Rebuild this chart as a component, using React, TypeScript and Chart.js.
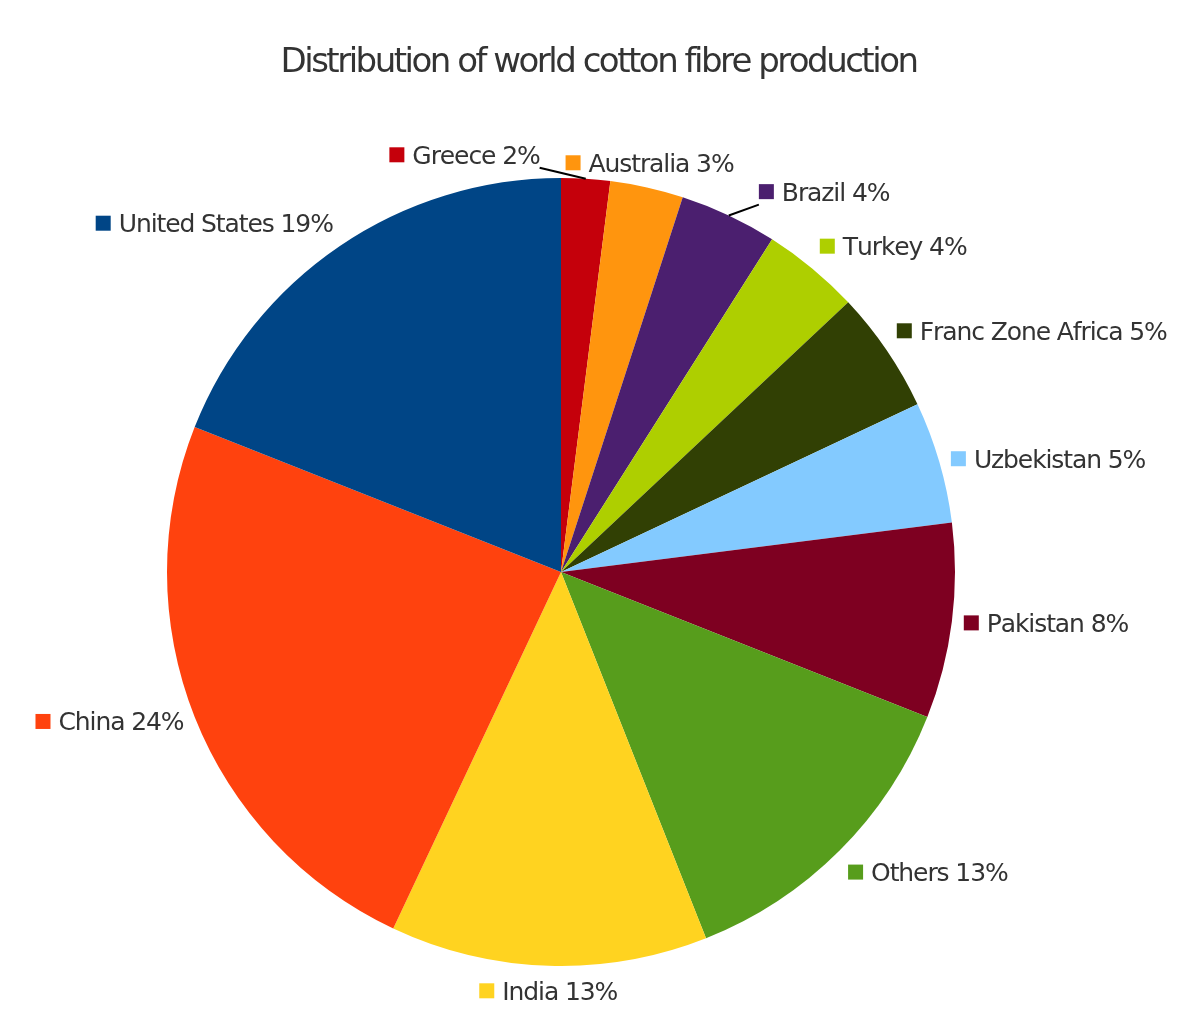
import React, { useEffect, useRef } from "react";
import { Chart, registerables } from "chart.js";

Chart.register(...registerables);

// ---- data (clockwise from 12 o'clock) ----
const TITLE = "Distribution of world cotton fibre production";
const categories = [
  "Greece",
  "Australia",
  "Brazil",
  "Turkey",
  "Franc Zone Africa",
  "Uzbekistan",
  "Pakistan",
  "Others",
  "India",
  "China",
  "United States",
];
const shares = [2, 3, 4, 4, 5, 5, 8, 13, 13, 24, 19];
const colors = [
  "#C5000B",
  "#FF950E",
  "#4B1F6F",
  "#AECF00",
  "#314004",
  "#83CAFF",
  "#7E0021",
  "#579D1C",
  "#FFD320",
  "#FF420E",
  "#004586",
];

// label nudges (crowded labels moved away, with a leader line)
const labelNudges: [number, number][] = [
  [-122, 1],
  [0, 0],
  [25, 0],
  [0, 0],
  [0, 0],
  [0, 0],
  [0, 0],
  [0, 0],
  [0, 0],
  [0, 0],
  [0, 0],
];

const FONT = '"DejaVu Sans", sans-serif';
const TEXT_COLOR = "#333333";
const TITLE_SIZE = 34;
const TITLE_SPACING = "-2.5px";
const LABEL_SIZE = 25;
const LABEL_SPACING = "-1.1px";
const SQ = 15;
const GAP = 8;
const BOX_H = 26;
const LABEL_DIST = 12;

const labelPlugin = {
  id: "outsideLabels",
  afterDatasetsDraw(chart: any) {
    const ctx: CanvasRenderingContext2D = chart.ctx;
    ctx.save();
    (ctx as any).fontKerning = "none";
    // title
    ctx.font = `${TITLE_SIZE}px ${FONT}`;
    (ctx as any).letterSpacing = TITLE_SPACING;
    ctx.fillStyle = TEXT_COLOR;
    ctx.textAlign = "center";
    ctx.textBaseline = "alphabetic";
    ctx.fillText(TITLE, chart.width / 2, 72);

    const meta = chart.getDatasetMeta(0);
    meta.data.forEach((arc: any, i: number) => {
      const p = arc.getProps(["x", "y", "startAngle", "endAngle", "outerRadius"], true);
      const mid = (p.startAngle + p.endAngle) / 2;
      const c = Math.cos(mid);
      const s = Math.sin(mid);
      const R = p.outerRadius + LABEL_DIST;
      const ax = p.x + R * c;
      const ay = p.y + R * s;
      const text = `${categories[i]} ${shares[i]}%`;
      ctx.font = `${LABEL_SIZE}px ${FONT}`;
      (ctx as any).letterSpacing = LABEL_SPACING;
      (ctx as any).fontKerning = "none";
      const tw = ctx.measureText(text).width;
      const W = SQ + GAP + tw;
      const H = BOX_H;
      let left = c > 0.383 ? ax : c < -0.383 ? ax - W : ax - W / 2;
      let top = s > 0.383 ? ay : s < -0.383 ? ay - H : ay - H / 2;
      const [dx, dy] = labelNudges[i];
      left += dx;
      top += dy;

      if (dx !== 0 || dy !== 0) {
        const sx = p.x + p.outerRadius * c;
        const sy = p.y + p.outerRadius * s;
        const pts = [
          [left, top],
          [left + W, top],
          [left, top + H],
          [left + W, top + H],
        ];
        let best = pts[0];
        let bd = Infinity;
        for (const q of pts) {
          const d = (q[0] - sx) ** 2 + (q[1] - sy) ** 2;
          if (d < bd) {
            bd = d;
            best = q;
          }
        }
        ctx.beginPath();
        ctx.strokeStyle = "#000000";
        ctx.lineWidth = 2;
        ctx.moveTo(sx, sy);
        ctx.lineTo(best[0], best[1]);
        ctx.stroke();
      }

      ctx.fillStyle = colors[i];
      ctx.fillRect(left, top + (H - SQ) / 2, SQ, SQ);
      ctx.fillStyle = TEXT_COLOR;
      ctx.textAlign = "left";
      ctx.textBaseline = "alphabetic";
      ctx.fillText(text, left + SQ + GAP, top + H / 2 + 9);
    });
    ctx.restore();
  },
};

export default function App() {
  const ref = useRef<HTMLCanvasElement | null>(null);
  useEffect(() => {
    if (!ref.current) return;
    const chart = new Chart(ref.current, {
      type: "pie",
      data: {
        labels: categories,
        datasets: [
          {
            data: shares,
            backgroundColor: colors,
            borderWidth: 0,
            hoverOffset: 0,
          },
        ],
      },
      options: {
        responsive: false,
        animation: false,
        devicePixelRatio: 1,
        layout: { padding: { top: 178, bottom: 58, left: 167, right: 242 } },
        plugins: {
          legend: { display: false },
          title: { display: false },
          tooltip: { enabled: false },
        },
      },
      plugins: [labelPlugin],
    });
    return () => chart.destroy();
  }, []);
  return (
    <div style={{ position: "absolute", left: 0, top: 0, width: 1197, height: 1024, background: "#ffffff" }}>
      <canvas ref={ref} width={1197} height={1024} />
    </div>
  );
}
